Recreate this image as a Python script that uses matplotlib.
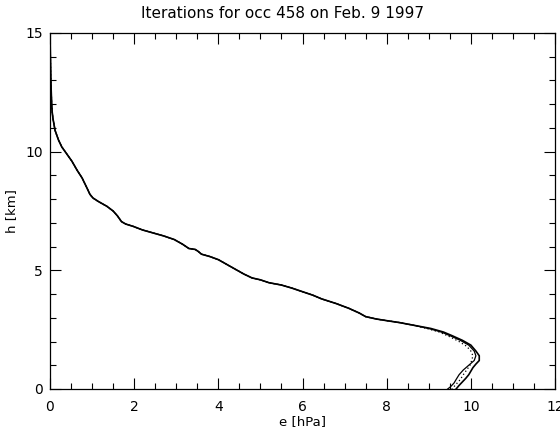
import matplotlib
matplotlib.use("Agg")
import matplotlib.pyplot as plt
from matplotlib.ticker import MultipleLocator

plt.rcParams['font.family'] = ['DejaVu Sans']

# Shared upper profile (all iterations coincide above ~2.7 km)
h_upper = [15.0, 14.0, 13.0, 12.0, 11.7, 11.4, 10.9, 10.5, 10.2, 9.9, 9.6, 9.2, 8.9,
           8.5, 8.2, 8.05, 7.9, 7.7, 7.5, 7.3, 7.05, 6.95, 6.85, 6.7, 6.55, 6.45,
           6.3, 6.1, 5.92, 5.88, 5.8, 5.68, 5.58, 5.45, 5.25, 5.05, 4.85, 4.68,
           4.6, 4.48, 4.38, 4.25, 4.1, 3.95, 3.8, 3.6, 3.4, 3.2, 3.05, 2.95, 2.88,
           2.8, 2.7]
e_upper = [0.0, 0.01, 0.02, 0.04, 0.05, 0.07, 0.12, 0.2, 0.28, 0.4, 0.52, 0.65, 0.76,
           0.87, 0.95, 1.02, 1.15, 1.35, 1.5, 1.6, 1.7, 1.8, 1.98, 2.2, 2.5, 2.7,
           2.95, 3.15, 3.3, 3.45, 3.52, 3.6, 3.8, 4.0, 4.2, 4.4, 4.6, 4.8,
           5.0, 5.2, 5.5, 5.75, 6.0, 6.25, 6.45, 6.8, 7.1, 7.35, 7.5, 7.75, 8.0,
           8.3, 8.6]

# Lower parts of the three iterations
h_a = [2.55, 2.4, 2.25, 2.05, 1.85, 1.6, 1.4, 1.2, 1.05, 0.9, 0.75, 0.6, 0.45, 0.3, 0.15, 0.0]
e_a = [9.05, 9.35, 9.55, 9.8, 10.0, 10.12, 10.2, 10.2, 10.12, 10.05, 10.0, 9.95, 9.88, 9.8, 9.72, 9.65]

h_b = [2.55, 2.4, 2.25, 2.05, 1.85, 1.6, 1.4, 1.2, 1.0, 0.8, 0.6, 0.4, 0.25, 0.1, 0.0]
e_b = [9.0, 9.3, 9.5, 9.75, 9.95, 10.08, 10.12, 10.08, 9.95, 9.82, 9.72, 9.65, 9.6, 9.52, 9.45]

h_c = [2.55, 2.4, 2.2, 2.0, 1.8, 1.6, 1.4, 1.2, 1.0, 0.8, 0.6, 0.4, 0.2, 0.0]
e_c = [8.95, 9.25, 9.5, 9.72, 9.9, 10.0, 10.05, 10.02, 9.98, 9.9, 9.82, 9.75, 9.65, 9.55]

fig = plt.figure(figsize=(5.6, 4.28), dpi=100)
ax = fig.add_axes([50/560, 1-389/428, 505/560, 356/428])

ax.plot(e_upper + e_c, h_upper + h_c, color='black', lw=0.9, ls=(0, (1, 2)))
ax.plot(e_upper + e_b, h_upper + h_b, color='black', lw=0.9)
ax.plot(e_upper + e_a, h_upper + h_a, color='black', lw=1.2)

ax.set_xlim(0, 12)
ax.set_ylim(0, 15)
ax.xaxis.set_major_locator(MultipleLocator(2))
ax.xaxis.set_minor_locator(MultipleLocator(0.5))
ax.yaxis.set_major_locator(MultipleLocator(5))
ax.yaxis.set_minor_locator(MultipleLocator(1))
ax.tick_params(which='both', direction='in', top=True, right=True, labelsize=10,
               width=0.8, colors='black')
ax.tick_params(which='major', length=8)
ax.tick_params(axis='x', which='major', pad=8)
ax.tick_params(axis='y', which='major', pad=5)
ax.tick_params(which='minor', length=4)
for s in ax.spines.values():
    s.set_linewidth(0.9)

ax.set_title('Iterations for occ 458 on Feb. 9 1997', fontsize=11, pad=11, x=0.46)
ax.set_xlabel('e [hPa]', fontsize=9.5, labelpad=1)
ax.set_ylabel('h [km]', fontsize=9.5, labelpad=5)

fig.savefig('out.png', dpi=100)
